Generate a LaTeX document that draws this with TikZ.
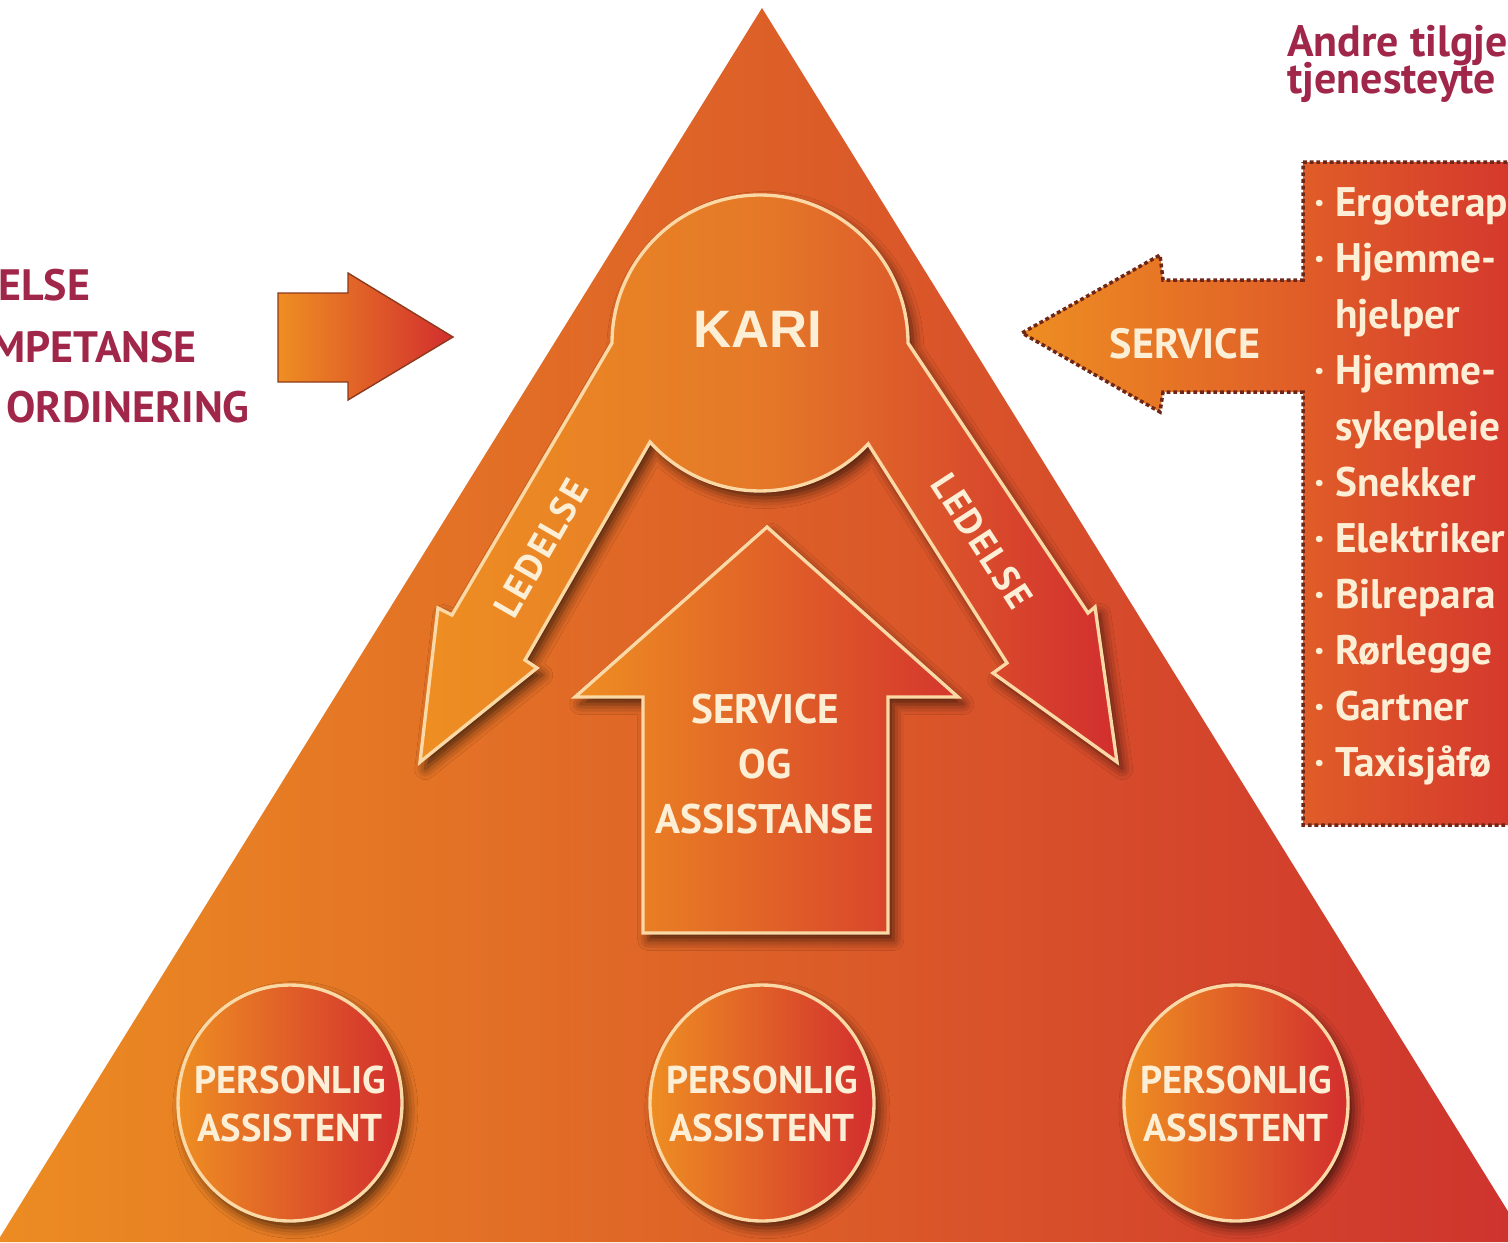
\documentclass[tikz,border=0pt]{standalone}
\usepackage{fontspec}
\setmainfont{PT Sans}
\newfontfamily\karifont{Liberation Sans}
\usetikzlibrary{shadows.blur}
\definecolor{triL}{HTML}{EC8C22}
\definecolor{triM}{HTML}{E77F28}
\definecolor{triR}{HTML}{CE332E}
\definecolor{shL}{HTML}{EE8E22}
\definecolor{shM}{HTML}{E47828}
\definecolor{shR}{HTML}{D22E2E}
\definecolor{cream}{HTML}{FAD9A6}
\definecolor{ctext}{HTML}{FCEFD6}
\definecolor{crimson}{HTML}{A1274A}
\definecolor{dashc}{HTML}{6E2618}
\definecolor{fatedge}{HTML}{8E3A1E}
\begin{document}
\begin{tikzpicture}[x=0.02cm,y=-0.02cm,
  shapeline/.style={draw=cream, line width=1.9pt, line join=miter},
  shad/.style={blur shadow={shadow xshift=3pt, shadow yshift=-4pt, shadow blur radius=6pt, shadow opacity=65}},
  karishape/.style={shapeline, shad, left color=shL, right color=shR, middle color=shM},
  uparrow/.style={shapeline, shad, left color=shL, right color=shR!90!triM},
  pacircle/.style={shapeline, shad, left color=shL, right color=shR},
  servshape/.style={draw=dashc, line width=2pt, dash pattern=on 2.2pt off 1.6pt, left color=shL, right color=shR},
  fatarrow/.style={draw=fatedge, line width=0.8pt, left color=shL, right color=shR},
  intext/.style={text=ctext, inner sep=0pt, font=\bfseries\fontsize{23.5}{28}\selectfont},
  patext/.style={text=ctext, inner sep=0pt, font=\bfseries\fontsize{22}{26}\selectfont},
  ledtext/.style={text=ctext, inner sep=0pt, font=\bfseries\fontsize{21}{24}\selectfont\addfontfeature{LetterSpace=6}},
  listtext/.style={text=ctext, inner sep=0pt, anchor=base west, font=\bfseries\fontsize{23.5}{27}\selectfont},
  redtext/.style={text=crimson, inner sep=0pt, font=\bfseries\fontsize{25}{30}\selectfont},
  headtext/.style={text=crimson, inner sep=0pt, anchor=base west, font=\bfseries\fontsize{25}{29}\selectfont}
]
\useasboundingbox (0,0) rectangle (1508,1242);
\clip (0,0) rectangle (1508,1242);
\fill[white] (0,0) rectangle (1508,1242);

% big triangle
\shade[left color=triL, middle color=triM, right color=triR] (762,8) -- (1527,1242) -- (-3,1242) -- cycle;

% left input arrow and texts
\draw[fatarrow] (278,293) -- (348,293) -- (348,273) -- (453,337) -- (348,400) -- (348,382) -- (278,382) -- cycle;
\node[redtext, anchor=base west] (t1) at (-2,300) {ELSE};
\node[redtext, anchor=base east] (t2) at (197,362) {MPETANSE};
\node[redtext, anchor=base east] (t3) at (250,422) {ORDINERING};

% KARI shape with two LEDELSE arrows
\draw[karishape] (612,343) -- (452,615) -- (438,608) -- (420,762) -- (537,668) -- (525,660)
  -- (650,442) arc[start angle=138, end angle=43, radius=148]
  -- (1007,663) -- (993,673) -- (1117,762) -- (1095,607) -- (1088,613)
  -- (908,343) arc[start angle=0, end angle=-180, radius=148] -- cycle;
\node[text=ctext, inner sep=0pt, anchor=base, font=\karifont\bfseries\fontsize{30}{34}\selectfont] (kari) at (758,347) {KARI};
\node[ledtext, rotate=60] (led1) at (541,548) {LEDELSE};
\node[ledtext, rotate=-57] (led2) at (982,541) {LEDELSE};

% service up arrow
\draw[uparrow] (767,527) -- (958,697) -- (888,697) -- (888,933) -- (643,933) -- (643,697) -- (575,697) -- cycle;
\node[intext, anchor=base] (s1) at (765,723) {SERVICE};
\node[intext, anchor=base] (s2) at (765,778) {OG};
\node[intext, anchor=base] (s3) at (765,833) {ASSISTANSE};

% personal assistants
\foreach \cx/\nm in {290/a, 762/b, 1236/c}{
  \draw[pacircle] (\cx,1103) ellipse[x radius=112, y radius=118];
  \node[patext, anchor=base] (p\nm1) at (\cx,1093) {PERSONLIG};
  \node[patext, anchor=base] (p\nm2) at (\cx,1141) {ASSISTENT};
}

% other service providers
\draw[servshape] (1303,162) -- (1570,162) -- (1570,825) -- (1303,825) -- (1303,392) -- (1163,392)
  -- (1160,412) -- (1022,333) -- (1160,255) -- (1163,280) -- (1303,280) -- cycle;
\node[text=ctext, inner sep=0pt, anchor=base, font=\bfseries\fontsize{24}{28}\selectfont] (serv) at (1185,358) {SERVICE};
\node[headtext] (h1) at (1287,56) {Andre tilgje};
\node[headtext] (h2) at (1287,93) {tjenesteyte};

\node[listtext] (l0) at (1314,216) {· Ergoterap};
\node[listtext] (l1) at (1314,272) {· Hjemme-};
\node[listtext] (l2) at (1335,328) {hjelper};
\node[listtext] (l3) at (1314,384) {· Hjemme-};
\node[listtext] (l4) at (1335,440) {sykepleie};
\node[listtext] (l5) at (1314,496) {· Snekker};
\node[listtext] (l6) at (1314,552) {· Elektriker};
\node[listtext] (l7) at (1314,608) {· Bilrepara};
\node[listtext] (l8) at (1314,664) {· Rørlegge};
\node[listtext] (l9) at (1314,720) {· Gartner};
\node[listtext] (l10) at (1314,776) {· Taxisjåfø};
\end{tikzpicture}
\end{document}
